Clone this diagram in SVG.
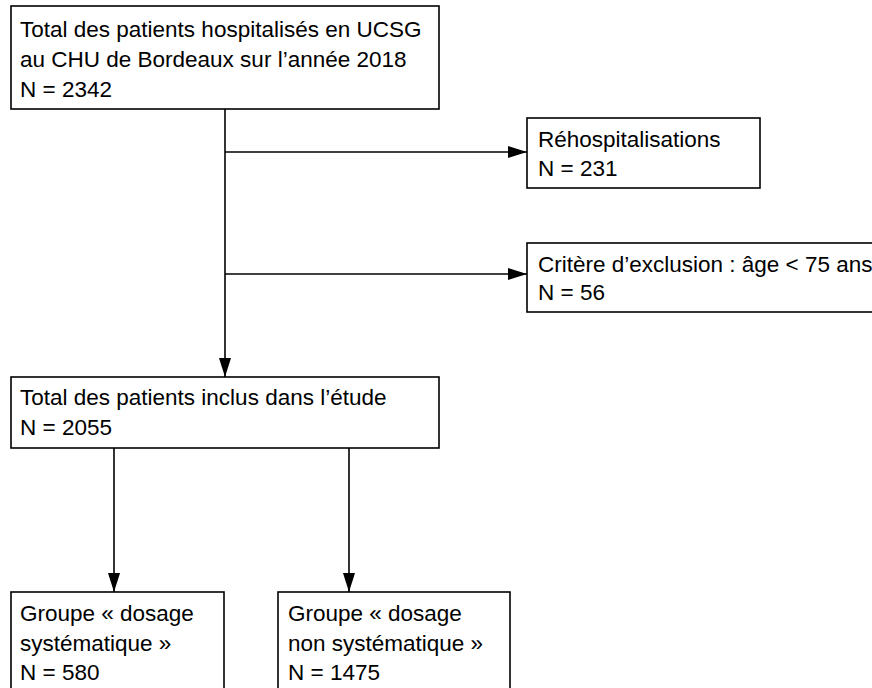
<svg xmlns="http://www.w3.org/2000/svg" width="872" height="688" viewBox="0 0 872 688">
<style>
.box{fill:#fff;stroke:#000;stroke-width:1.6}
.t{font-family:"Liberation Sans",Arial,sans-serif;font-size:22.5px;fill:#000}
.c{stroke:#000;stroke-width:1.6;fill:none}
</style>
<defs>
<marker id="ah" viewBox="0 0 19 12" refX="19" refY="6" markerWidth="19" markerHeight="12" markerUnits="userSpaceOnUse" orient="auto">
<path d="M0,0 L19,6 L0,12 Z" fill="#000"/>
</marker>
</defs>
<rect width="872" height="688" fill="#fff"/>
<g id="connectors">
<line class="c" x1="225" y1="109" x2="225" y2="377" marker-end="url(#ah)"/>
<line class="c" x1="225" y1="152" x2="527" y2="152" marker-end="url(#ah)"/>
<line class="c" x1="225" y1="274" x2="527" y2="274" marker-end="url(#ah)"/>
<line class="c" x1="114" y1="448" x2="114" y2="592" marker-end="url(#ah)"/>
<line class="c" x1="349" y1="448" x2="349" y2="592" marker-end="url(#ah)"/>
</g>
<g id="n_total">
<rect class="box" x="11" y="6" width="428" height="103"/>
<text class="t" x="20" y="37">Total des patients hospitalisés en UCSG</text>
<text class="t" x="20" y="67">au CHU de Bordeaux sur l’année 2018</text>
<text class="t" x="20" y="97">N = 2342</text>
</g>
<g id="n_rehosp">
<rect class="box" x="527" y="118" width="233" height="70"/>
<text class="t" x="538" y="147">Réhospitalisations</text>
<text class="t" x="538" y="176">N = 231</text>
</g>
<g id="n_excl">
<rect class="box" x="527" y="243" width="360" height="69"/>
<text class="t" x="538" y="272">Critère d’exclusion : âge &lt; 75 ans</text>
<text class="t" x="538" y="300">N = 56</text>
</g>
<g id="n_inclus">
<rect class="box" x="11" y="377" width="428" height="71"/>
<text class="t" x="20" y="405">Total des patients inclus dans l’étude</text>
<text class="t" x="20" y="435">N = 2055</text>
</g>
<g id="n_sys">
<rect class="box" x="11" y="592" width="213" height="110"/>
<text class="t" x="20" y="621">Groupe « dosage</text>
<text class="t" x="20" y="651">systématique »</text>
<text class="t" x="20" y="680">N = 580</text>
</g>
<g id="n_nonsys">
<rect class="box" x="278" y="592" width="232" height="110"/>
<text class="t" x="288" y="621">Groupe « dosage</text>
<text class="t" x="288" y="651">non systématique »</text>
<text class="t" x="288" y="680">N = 1475</text>
</g>
</svg>
